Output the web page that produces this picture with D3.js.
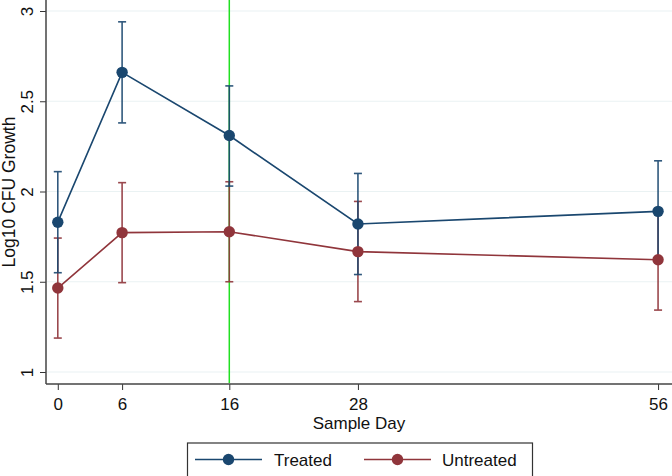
<!DOCTYPE html>
<html><head><meta charset="utf-8">
<script src="https://cdn.jsdelivr.net/npm/d3@7"></script>
<style>body{margin:0;background:#fff}svg{display:block}text{font-family:"Liberation Sans",Arial,sans-serif;fill:#111}</style>
</head><body>
<svg id="c" width="672" height="476"></svg>
<script>
const days = [0, 6, 16, 28, 56];
const treatedMean = [1.83, 2.66, 2.31, 1.82, 1.89];
const treatedLow  = [1.55, 2.38, 2.03, 1.54, 1.61];
const treatedHigh = [2.11, 2.94, 2.585, 2.10, 2.17];
const untreatedMean = [1.465, 1.772, 1.777, 1.667, 1.622];
const untreatedLow  = [1.188, 1.495, 1.50, 1.39, 1.343];
const untreatedHigh = [1.742, 2.049, 2.054, 1.945, 1.90];
const yTicks = [1, 1.5, 2, 2.5, 3];
const yTickLabels = ["1", "1.5", "2", "2.5", "3"];
const refDay = 16;
const seriesNames = ["Treated", "Untreated"];
const colors = ["#1a476f", "#90353b"];

const FONT = '"Liberation Sans",Arial,sans-serif';
const FS = "17px";
const svg = d3.select("#c");
const x = d3.scaleLinear().domain([-1.1, 57.3]).range([46, 672]);
const y = d3.scaleLinear().domain([1, 3]).range([372, 11]);
const axisY = 384;

// gridlines
svg.append("g").selectAll("line").data(yTicks).join("line")
  .attr("x1", 47).attr("x2", 672).attr("y1", d => y(d)).attr("y2", d => y(d))
  .attr("stroke", "#eaf2f3").attr("stroke-width", 1.2);

// axes
const yAxis = d3.axisLeft(y).tickValues(yTicks).tickFormat((d, i) => yTickLabels[i]).tickSize(6).tickPadding(4);
const gy = svg.append("g").attr("transform", "translate(46,0)").call(yAxis);
gy.select(".domain").remove();
gy.selectAll(".tick line").attr("stroke", "#333");
gy.selectAll(".tick text").attr("transform", "rotate(-90)").attr("x", 0).attr("y", -13)
  .attr("text-anchor", "middle").attr("dy", "0").style("font-size", FS).attr("fill", "#111")
  .style("font-family", FONT);
svg.append("line").attr("x1", 46).attr("x2", 46).attr("y1", 0).attr("y2", axisY).attr("stroke", "#444").attr("stroke-width", 1.5);

const xAxis = d3.axisBottom(x).tickValues(days).tickSize(6).tickPadding(8);
const gx = svg.append("g").attr("transform", `translate(0,${axisY})`).call(xAxis);
gx.select(".domain").remove();
gx.selectAll(".tick line").attr("stroke", "#333");
gx.selectAll(".tick text").style("font-size", FS).attr("fill", "#111").style("font-family", FONT);
svg.append("line").attr("x1", 46).attr("x2", 672).attr("y1", axisY).attr("y2", axisY).attr("stroke", "#444").attr("stroke-width", 1.5);

// titles
svg.append("text").attr("transform", "translate(15,192) rotate(-90)").attr("text-anchor", "middle")
  .style("font-size", "17.5px").text("Log10 CFU Growth");
svg.append("text").attr("x", 359).attr("y", 429).attr("text-anchor", "middle")
  .style("font-size", FS).text("Sample Day");

// reference line
svg.append("line").attr("x1", x(refDay)).attr("x2", x(refDay)).attr("y1", 0).attr("y2", axisY - 1)
  .attr("stroke", "#22e022").attr("stroke-width", 1.5);

const series = [
  {mean: treatedMean, lo: treatedLow, hi: treatedHigh},
  {mean: untreatedMean, lo: untreatedLow, hi: untreatedHigh}
];
const order = [1, 0];
// error bars
order.forEach(si => {
  const s = series[si], c = colors[si];
  const g = svg.append("g").attr("stroke", c).attr("stroke-width", 1.6).attr("opacity", 0.9);
  days.forEach((d, i) => {
    g.append("line").attr("x1", x(d)).attr("x2", x(d)).attr("y1", y(s.lo[i])).attr("y2", y(s.hi[i]));
    g.append("line").attr("x1", x(d) - 4).attr("x2", x(d) + 4).attr("y1", y(s.lo[i])).attr("y2", y(s.lo[i]));
    g.append("line").attr("x1", x(d) - 4).attr("x2", x(d) + 4).attr("y1", y(s.hi[i])).attr("y2", y(s.hi[i]));
  });
});
// lines and markers
order.forEach(si => {
  const s = series[si], c = colors[si];
  const line = d3.line().x((d, i) => x(days[i])).y(d => y(d));
  svg.append("path").datum(s.mean).attr("d", line).attr("fill", "none").attr("stroke", c).attr("stroke-width", 1.6);
  svg.append("g").selectAll("circle").data(s.mean).join("circle")
    .attr("cx", (d, i) => x(days[i])).attr("cy", d => y(d)).attr("r", 5.7).attr("fill", c);
});

// legend
const lg = svg.append("g");
lg.append("rect").attr("x", 187.5).attr("y", 443).attr("width", 345).attr("height", 34)
  .attr("fill", "#fff").attr("stroke", "#333").attr("stroke-width", 1.2);
const items = [{x0: 195, x1: 262, tx: 274}, {x0: 364, x1: 431, tx: 442}];
items.forEach((it, i) => {
  lg.append("line").attr("x1", it.x0).attr("x2", it.x1).attr("y1", 459.5).attr("y2", 459.5).attr("stroke", colors[i]).attr("stroke-width", 1.6);
  lg.append("circle").attr("cx", (it.x0 + it.x1) / 2).attr("cy", 459.5).attr("r", 5.7).attr("fill", colors[i]);
  lg.append("text").attr("x", it.tx).attr("y", 466).style("font-size", FS).text(seriesNames[i]);
});
</script>
</body></html>
